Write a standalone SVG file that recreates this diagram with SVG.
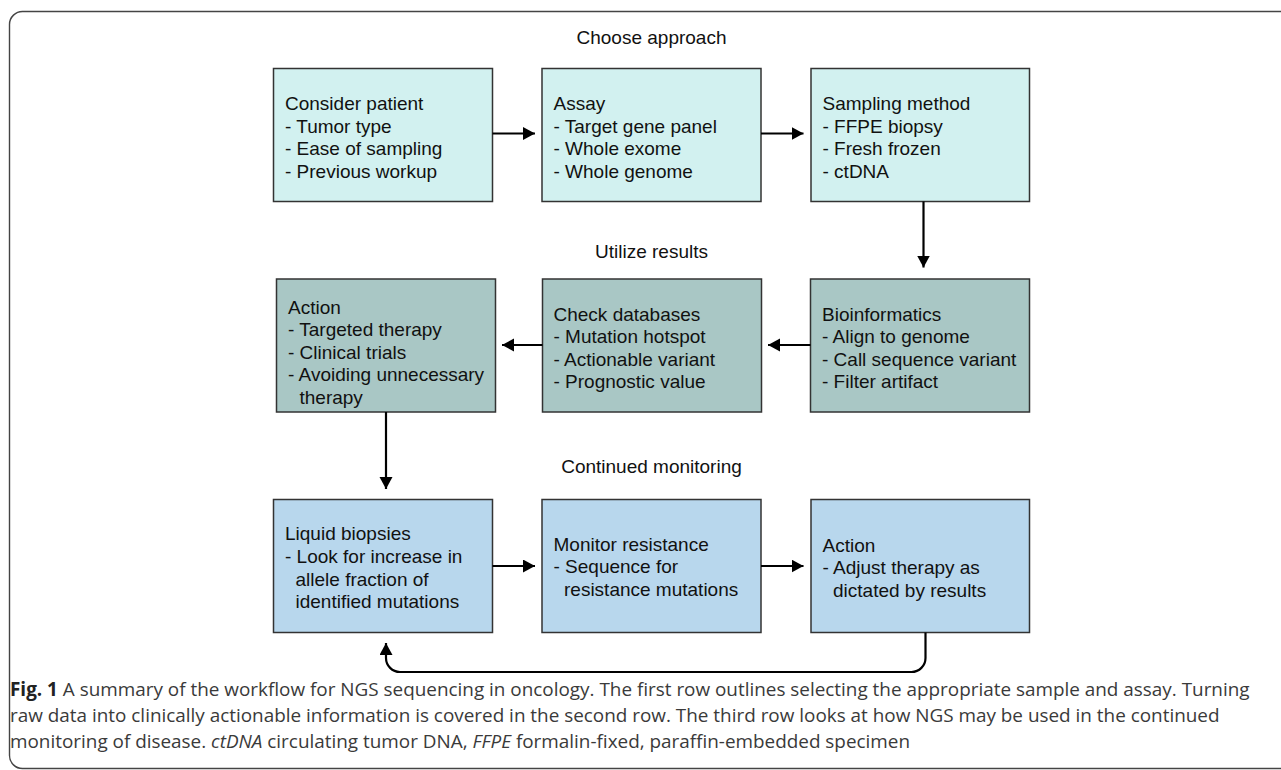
<svg xmlns="http://www.w3.org/2000/svg" width="1281" height="770" viewBox="0 0 1281 770">
<defs>
<style>
.frame{fill:none;stroke:#444;stroke-width:1.4}
.box{stroke:#333;stroke-width:1.5}
.r1{fill:#d2f1f0}
.r2{fill:#a9c7c5}
.r3{fill:#b8d7ed}
.t{font-family:"Liberation Sans",Arial,sans-serif;font-size:19px;fill:#111}
.title{font-family:"Liberation Sans",Arial,sans-serif;font-size:19px;fill:#111;text-anchor:middle}
.cap{font-family:"Open Sans","Noto Sans",sans-serif;font-size:18.9px;fill:#3a3a3a}
.conn{fill:none;stroke:#000;stroke-width:2.2}
</style>
<marker id="ah" markerUnits="userSpaceOnUse" markerWidth="14" markerHeight="14" refX="12" refY="6.5" orient="auto">
<path d="M0,0 L12,6.5 L0,13 Z" fill="#000"/>
</marker>
</defs>
<rect width="1281" height="770" fill="#fff"/>
<path class="frame" d="M1282,11.5 H23 A13,13 0 0 0 9.5,24.5 V755.5 A13,13 0 0 0 23,768.5 H1282"/>

<text class="title" x="651.5" y="44">Choose approach</text>
<text class="title" x="651.5" y="258">Utilize results</text>
<text class="title" x="651.5" y="473">Continued monitoring</text>

<g id="consider-patient">
<rect class="box r1" x="273.5" y="68.5" width="219" height="133"/>
<text class="t"><tspan x="285" y="110">Consider patient</tspan><tspan x="285" y="132.6">- Tumor type</tspan><tspan x="285" y="155.2">- Ease of sampling</tspan><tspan x="285" y="177.8">- Previous workup</tspan></text>
</g>
<g id="assay">
<rect class="box r1" x="542" y="68.5" width="219" height="133"/>
<text class="t"><tspan x="553.5" y="110">Assay</tspan><tspan x="553.5" y="132.6">- Target gene panel</tspan><tspan x="553.5" y="155.2">- Whole exome</tspan><tspan x="553.5" y="177.8">- Whole genome</tspan></text>
</g>
<g id="sampling-method">
<rect class="box r1" x="811" y="68.5" width="218.5" height="133"/>
<text class="t"><tspan x="822.5" y="110">Sampling method</tspan><tspan x="822.5" y="132.6">- FFPE biopsy</tspan><tspan x="822.5" y="155.2">- Fresh frozen</tspan><tspan x="822.5" y="177.8">- ctDNA</tspan></text>
</g>

<g id="action-1">
<rect class="box r2" x="276.5" y="279" width="219" height="133"/>
<text class="t"><tspan x="288" y="313.5">Action</tspan><tspan x="288" y="336.1">- Targeted therapy</tspan><tspan x="288" y="358.7">- Clinical trials</tspan><tspan x="288" y="381.3">- Avoiding unnecessary</tspan><tspan x="299.5" y="403.9">therapy</tspan></text>
</g>
<g id="check-databases">
<rect class="box r2" x="542.5" y="279" width="219" height="133"/>
<text class="t"><tspan x="553.5" y="320.5">Check databases</tspan><tspan x="553.5" y="343.1">- Mutation hotspot</tspan><tspan x="553.5" y="365.7">- Actionable variant</tspan><tspan x="553.5" y="388.3">- Prognostic value</tspan></text>
</g>
<g id="bioinformatics">
<rect class="box r2" x="810.5" y="279" width="219" height="133"/>
<text class="t"><tspan x="822" y="320.5">Bioinformatics</tspan><tspan x="822" y="343.1">- Align to genome</tspan><tspan x="822" y="365.7">- Call sequence variant</tspan><tspan x="822" y="388.3">- Filter artifact</tspan></text>
</g>

<g id="liquid-biopsies">
<rect class="box r3" x="273.5" y="499.5" width="219" height="133"/>
<text class="t"><tspan x="285" y="540">Liquid biopsies</tspan><tspan x="285" y="562.8">- Look for increase in</tspan><tspan x="295.5" y="585.6">allele fraction of</tspan><tspan x="295.5" y="608.4">identified mutations</tspan></text>
</g>
<g id="monitor-resistance">
<rect class="box r3" x="542" y="499.5" width="219" height="133"/>
<text class="t"><tspan x="553.5" y="550.5">Monitor resistance</tspan><tspan x="553.5" y="573">- Sequence for</tspan><tspan x="564" y="595.5">resistance mutations</tspan></text>
</g>
<g id="action-2">
<rect class="box r3" x="811" y="499.5" width="218.5" height="133"/>
<text class="t"><tspan x="822.5" y="551.5">Action</tspan><tspan x="822.5" y="574">- Adjust therapy as</tspan><tspan x="833" y="596.5">dictated by results</tspan></text>
</g>

<g id="connectors">
<line class="conn" x1="492.5" y1="133.5" x2="535" y2="133.5" marker-end="url(#ah)"/>
<line class="conn" x1="761" y1="133.5" x2="803.5" y2="133.5" marker-end="url(#ah)"/>
<line class="conn" x1="923.5" y1="201.5" x2="923.5" y2="267.5" marker-end="url(#ah)"/>
<line class="conn" x1="810.5" y1="345" x2="768" y2="345" marker-end="url(#ah)"/>
<line class="conn" x1="542.5" y1="345" x2="502" y2="345" marker-end="url(#ah)"/>
<line class="conn" x1="386" y1="412" x2="386" y2="489" marker-end="url(#ah)"/>
<line class="conn" x1="492.5" y1="566" x2="535" y2="566" marker-end="url(#ah)"/>
<line class="conn" x1="761" y1="566" x2="803.5" y2="566" marker-end="url(#ah)"/>
<path class="conn" d="M925.5,632.5 V658 A14,14 0 0 1 911.5,672 H400 A14,14 0 0 1 386,658 V643" marker-end="url(#ah)"/>
</g>

<g id="caption">
<text class="cap" x="10" y="696"><tspan font-weight="bold" fill="#222">Fig. 1</tspan> A summary of the workflow for NGS sequencing in oncology. The first row outlines selecting the appropriate sample and assay. Turning</text>
<text class="cap" x="10" y="722">raw data into clinically actionable information is covered in the second row. The third row looks at how NGS may be used in the continued</text>
<text class="cap" x="10" y="748">monitoring of disease. <tspan font-style="italic">ctDNA</tspan> circulating tumor DNA, <tspan font-style="italic">FFPE</tspan> formalin-fixed, paraffin-embedded specimen</text>
</g>
</svg>
